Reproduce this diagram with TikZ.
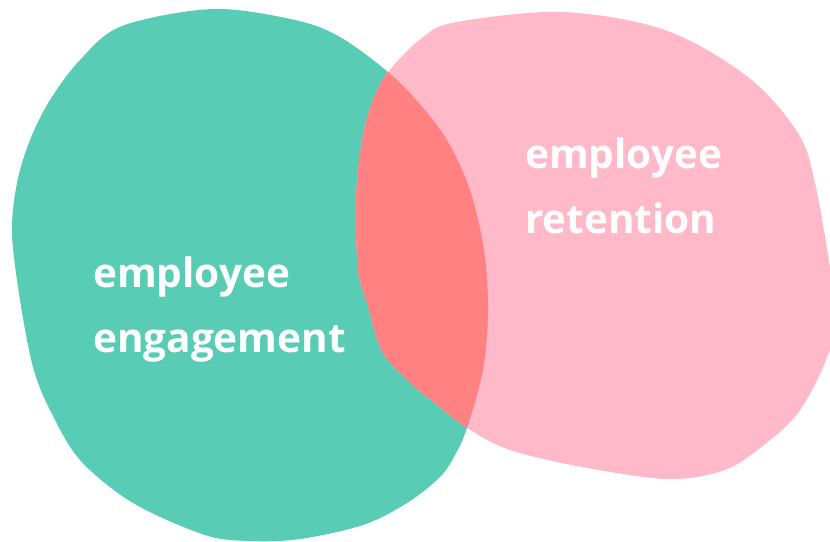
\documentclass[tikz,border=0pt]{standalone}
\usepackage{fontspec}
\setmainfont{Open Sans}
\definecolor{engcol}{HTML}{59CCB6}
\definecolor{retcol}{HTML}{FFB9C8}
\definecolor{ovcol}{HTML}{FF8181}
\tikzset{
  label/.style={text=white, font=\bfseries\fontsize{40.5}{65}\selectfont, align=left, inner sep=0pt, anchor=base west}
}
\begin{document}
\begin{tikzpicture}[x=1pt,y=-1pt]
\useasboundingbox (0,0) rectangle (830,541);
\clip (0,0) rectangle (830,541);
\def\greenblob{plot[smooth cycle, tension=0.55] coordinates {
 (122,26) (213,9) (295,20) (340,37) (388,72) (418,102) (447,140) (470,190)
 (484,250) (488,310) (483,370) (467,428) (455,455) (440,477) (407,503)
 (363,525) (300,539) (250,541) (205,535) (133,503) (80,460) (50,410) (33,367)
 (20,300) (12,233) (17,183) (30,140) (50,100) (80,60)}}
\def\pinkblob{plot[smooth cycle, tension=0.55] coordinates {
 (388,72) (423,37) (457,22) (562,12) (665,30) (748,77) (798,133) (815,183)
 (830,267) (836,310) (830,350) (798,413) (748,457) (715,473) (665,479)
 (582,467) (510,450) (467,428) (435,403) (415,387) (383,353) (367,303)
 (358,270) (356,200) (362,140) (373,100)}}
\fill[engcol] \greenblob;
\fill[retcol] \pinkblob;
\begin{scope}
  \clip \greenblob;
  \fill[ovcol] \pinkblob;
\end{scope}
\node[label] (eng) at (93,352) {employee\\engagement};
\node[label] (ret) at (525,233) {employee\\retention};
\end{tikzpicture}
\end{document}
